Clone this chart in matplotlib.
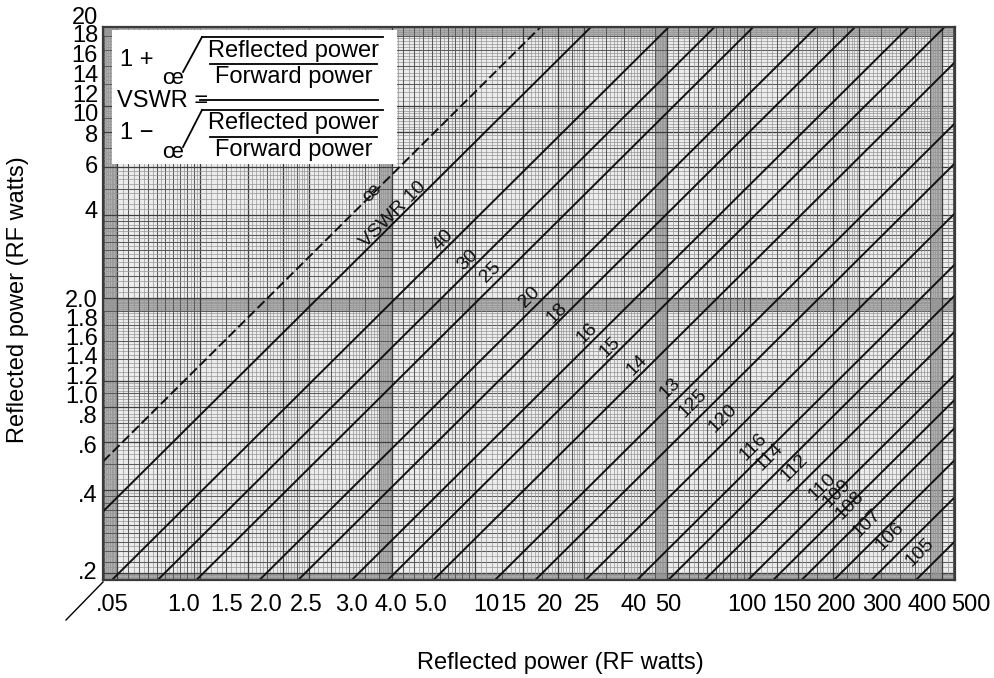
import numpy as np
import matplotlib
matplotlib.use("Agg")
import matplotlib.pyplot as plt
from matplotlib.lines import Line2D
from matplotlib.patches import Rectangle

plt.rcParams['font.family'] = ['Liberation Sans', 'DejaVu Sans']

# ---------------- data ----------------
vswr_values = [np.inf, 10, 4.0, 3.0, 2.5, 2.0, 1.8, 1.6, 1.5, 1.4, 1.3, 1.25,
               1.20, 1.16, 1.14, 1.12, 1.10, 1.09, 1.08, 1.07, 1.06, 1.05]
line_labels = ["œ", "VSWR 10", "40", "30", "25", "20", "18", "16", "15", "14", "13",
               "125", "120", "116", "114", "112", "110", "109", "108", "107", "106", "105"]
# label anchor positions (forward power, reflected power)
label_fwd = [4.41, 5.22, 7.76, 9.48, 11.3, 15.5, 19.3, 24.5, 29.4, 36.4, 47.4,
             57.0, 72.3, 91.8, 105, 128, 159, 179, 199, 228, 274, 347]
label_ref = [4.46, 3.74, 3.06, 2.61, 2.37, 1.94, 1.70, 1.45, 1.30, 1.12, 0.933,
             0.828, 0.733, 0.581, 0.537, 0.491, 0.422, 0.402, 0.365, 0.316, 0.283, 0.250]

xtick_labels = [".05", "1.0", "1.5", "2.0", "2.5", "3.0", "4.0", "5.0", "10", "15",
                "20", "25", "40", "50", "100", "150", "200", "300", "400", "500"]
ytick_labels = ["20", "18", "16", "14", "12", "10", "8", "6", "4", "2.0", "1.8",
                "1.6", "1.4", "1.2", "1.0", ".8", ".6", ".4", ".2"]

# ---------------- layout (pixels) ----------------
W, H, DPI = 994, 678, 100
L, R, T, B = 103, 955, 27, 580
xtick_px = [112, 184, 227, 266, 306, 351, 391, 430, 486, 513,
            550, 587, 634, 668, 747, 792, 837, 882, 927, 971]
ytick_px = [18, 36, 56, 76, 96, 115, 136, 167, 212, 301, 320,
            339, 358, 378, 397, 417, 447, 496, 573]


def fx(px):
    return px / W


def fy(py):
    return 1 - py / H


fig = plt.figure(figsize=(W / DPI, H / DPI), dpi=DPI)
pos = [L / W, 1 - B / H, (R - L) / W, (B - T) / H]

# ---------------- graph paper background ----------------
paper = fig.add_axes(pos, zorder=0)
paper.set_xscale('log')
paper.set_yscale('log')
paper.set_xlim(0.889, 1114)
paper.set_ylim(0.943, 96.7)
paper.set_facecolor('#ececec')
for s in paper.spines.values():
    s.set_visible(False)
for a in (paper.xaxis, paper.yaxis):
    a.set_major_locator(matplotlib.ticker.NullLocator())
    a.set_minor_locator(matplotlib.ticker.NullLocator())

fine = np.concatenate([np.arange(1.0, 2.0, 0.05), np.arange(2.0, 5.0, 0.1),
                       np.arange(5.0, 9.0, 0.2), np.arange(9.0, 10.0, 0.05)])
medium = np.concatenate([np.arange(1.1, 2.0, 0.1), np.arange(2.5, 5.0, 0.5),
                         np.array([6, 7, 8, 9.0])])
major = np.array([1.0, 2.0, 3.0, 4.0, 5.0])
for dec in [0.1, 1, 10, 100, 1000]:
    for vals, c, lw in [(fine, '#959595', 0.5), (medium, '#5a5a5a', 0.75),
                        (major, '#3c3c3c', 0.9)]:
        paper.vlines(vals * dec, 0.5, 200, colors=c, lw=lw)
        paper.hlines(vals * dec, 0.5, 2000, colors=c, lw=lw)

# ---------------- main axes ----------------
ax = fig.add_axes(pos, zorder=1)
ax.patch.set_alpha(0)
ax.set_xscale('log')
ax.set_yscale('log')
ax.set_xlim(0.5175, 459)
ax.set_ylim(0.2, 16.9)
for a in (ax.xaxis, ax.yaxis):
    a.set_major_locator(matplotlib.ticker.NullLocator())
    a.set_minor_locator(matplotlib.ticker.NullLocator())
for s in ax.spines.values():
    s.set_color('#3a3a3a')
    s.set_linewidth(1.6)

xs = np.array(ax.get_xlim())
for s in vswr_values:
    ratio = 1.0 if np.isinf(s) else ((s - 1) / (s + 1)) ** 2
    if np.isinf(s):
        ax.plot(xs, ratio * xs, color='#111111', lw=1.4, ls=(0, (5, 2)))
    else:
        ax.plot(xs, ratio * xs, color='#111111', lw=1.4)

for lab, xf, yr in zip(line_labels, label_fwd, label_ref):
    ax.text(xf, yr, lab, rotation=45, rotation_mode='anchor', ha='center', va='center',
            fontsize=14, color='#111111')

# ---------------- formula box ----------------
fig.add_artist(Rectangle((fx(112), fy(164)), fx(397) - fx(112), fy(30) - fy(164),
                         transform=fig.transFigure, facecolor='white', edgecolor='none',
                         zorder=5))


def seg(x0, y0, x1, y1, lw=1.3):
    fig.add_artist(Line2D([fx(x0), fx(x1)], [fy(y0), fy(y1)], transform=fig.transFigure,
                          color='black', lw=lw, zorder=6))


fs = 17
fig.text(fx(120), fy(60), "1 +", fontsize=fs, ha='left', va='center', zorder=7)
fig.text(fx(173), fy(79), "œ", fontsize=fs - 1, ha='center', va='center', zorder=7)
seg(183, 72, 202, 37)
seg(202, 37, 383, 37)
fig.text(fx(294), fy(51), "Reflected power", fontsize=fs, ha='center', va='center', zorder=7)
seg(210, 64, 377, 64)
fig.text(fx(294), fy(77), "Forward power", fontsize=fs, ha='center', va='center', zorder=7)
fig.text(fx(117), fy(101), "VSWR =", fontsize=fs, ha='left', va='center', zorder=7)
seg(200, 100, 378, 100)
seg(183, 147, 202, 110)
seg(202, 110, 383, 110)
fig.text(fx(120), fy(133), "1 \u2212", fontsize=fs, ha='left', va='center', zorder=7)
fig.text(fx(173), fy(152), "œ", fontsize=fs - 1, ha='center', va='center', zorder=7)
fig.text(fx(294), fy(123), "Reflected power", fontsize=fs, ha='center', va='center', zorder=7)
seg(210, 137, 377, 137)
fig.text(fx(294), fy(150), "Forward power", fontsize=fs, ha='center', va='center', zorder=7)

# ---------------- tick labels & titles ----------------
for lab, px in zip(xtick_labels, xtick_px):
    fig.text(fx(px), fy(605), lab, fontsize=fs, ha='center', va='center')
for lab, py in zip(ytick_labels, ytick_px):
    fig.text(fx(98), fy(py), lab, fontsize=fs, ha='right', va='center')

seg(103, 582, 66, 620, lw=1.0)

fig.text(fx(560), fy(663), "Reflected power (RF watts)", fontsize=fs, ha='center', va='center')
fig.text(fx(18), fy(300), "Reflected power (RF watts)", fontsize=fs, ha='center', va='center',
         rotation=90)

fig.savefig("out.png", dpi=DPI)
